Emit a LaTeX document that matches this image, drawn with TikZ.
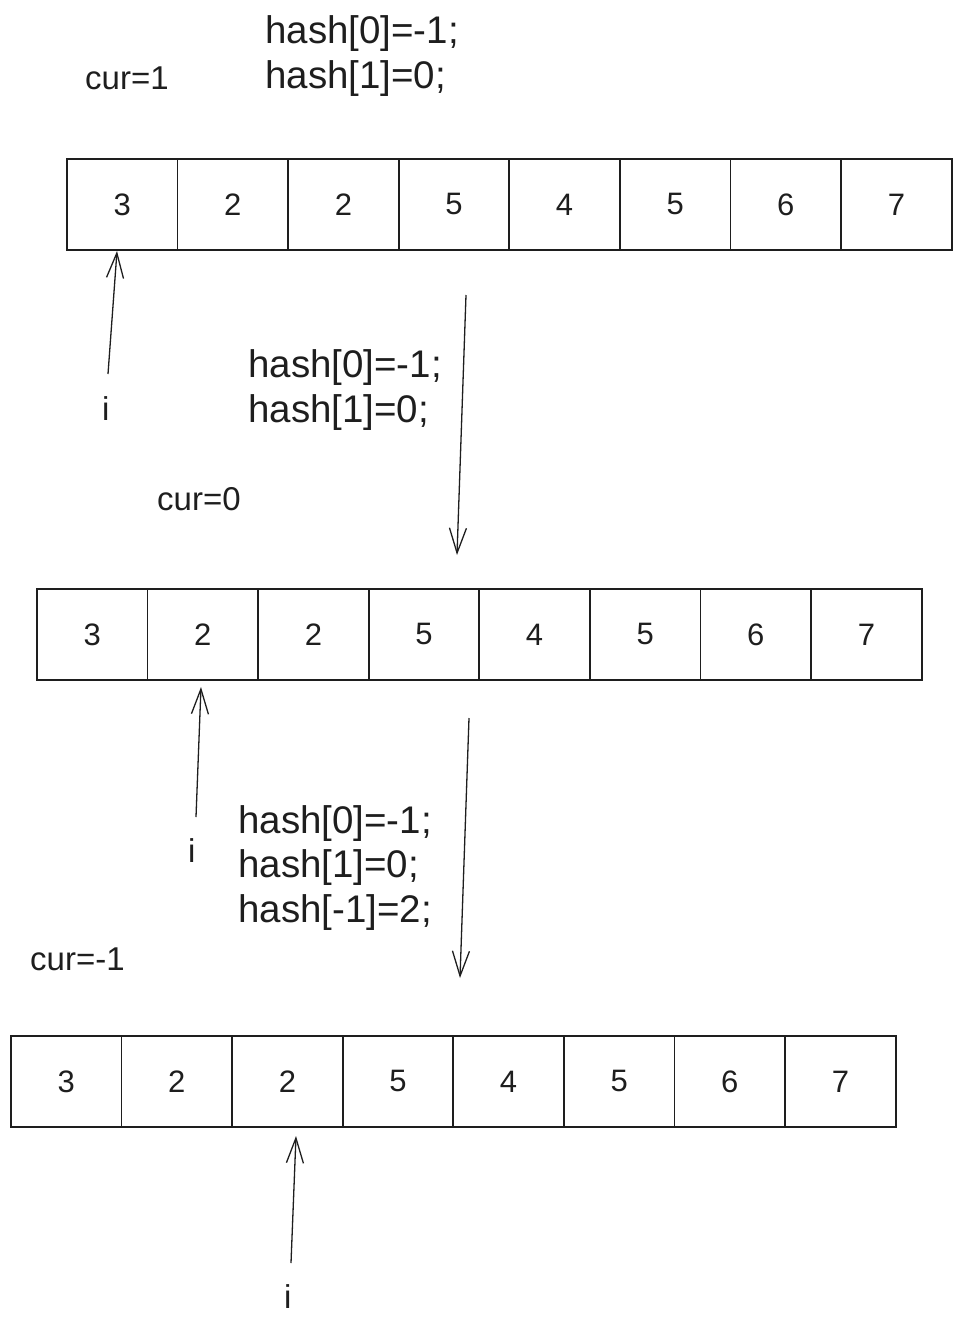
\documentclass[tikz,border=0pt]{standalone}
\usepackage{fontspec}
\setmainfont{Liberation Sans}
\usetikzlibrary{arrows.meta}
\definecolor{ink}{HTML}{1E1E1E}
\begin{document}
\begin{tikzpicture}[x=1pt,y=-1pt,
  cell/.style={draw=ink, line width=1.8pt, minimum width=110.6pt, minimum height=91pt, inner sep=0pt, anchor=north west, text=ink, font=\fontsize{31}{36}\selectfont},
  code/.style={anchor=base west, inner sep=0pt, text=ink, font=\fontsize{38.5}{44}\selectfont},
  lbl/.style={anchor=base west, inner sep=0pt, text=ink, font=\fontsize{33}{38}\selectfont},
  ptr/.style={draw=ink, line width=1.3pt, -{Straight Barb[length=25pt,width=17pt]}}]
\useasboundingbox (0,0) rectangle (960,1333);
% arrays
\foreach \r/\xx/\yy in {1/66/158, 2/36/588, 3/10/1035}{
  \foreach \v [count=\k] in {3,2,2,5,4,5,6,7}{
    \node[cell] (r\r-\k) at ({\xx+110.6*(\k-1)}, \yy) {\v};
  }
}
% block 1
\node[lbl] (cur1) at (85,89) {cur=1};
\node[code] (h1a) at (265,43) {hash[0]=-1;};
\node[code] (h1b) at (265,88) {hash[1]=0;};
\node[lbl] (i1) at (102,420) {i};
\coordinate (p1) at (108,374);
\coordinate (t1) at (117,251);
\draw[ptr] (p1) -- (t1);
\coordinate (d1s) at (466,295);
\coordinate (d1e) at (457,555);
\draw[ptr] (d1s) -- (d1e);
% block 2
\node[code] (h2a) at (248,377) {hash[0]=-1;};
\node[code] (h2b) at (248,422) {hash[1]=0;};
\node[lbl] (cur2) at (157,510) {cur=0};
\node[lbl] (i2) at (188,862) {i};
\coordinate (p2) at (196,817);
\coordinate (t2) at (201,687);
\draw[ptr] (p2) -- (t2);
\coordinate (d2s) at (469,718);
\coordinate (d2e) at (460,978);
\draw[ptr] (d2s) -- (d2e);
% block 3
\node[code] (h3a) at (238,833) {hash[0]=-1;};
\node[code] (h3b) at (238,877) {hash[1]=0;};
\node[code] (h3c) at (238,922) {hash[-1]=2;};
\node[lbl] (cur3) at (30,970) {cur=-1};
\node[lbl] (i3) at (284,1308) {i};
\coordinate (p3) at (291,1263);
\coordinate (t3) at (296,1136);
\draw[ptr] (p3) -- (t3);
\end{tikzpicture}
\end{document}
